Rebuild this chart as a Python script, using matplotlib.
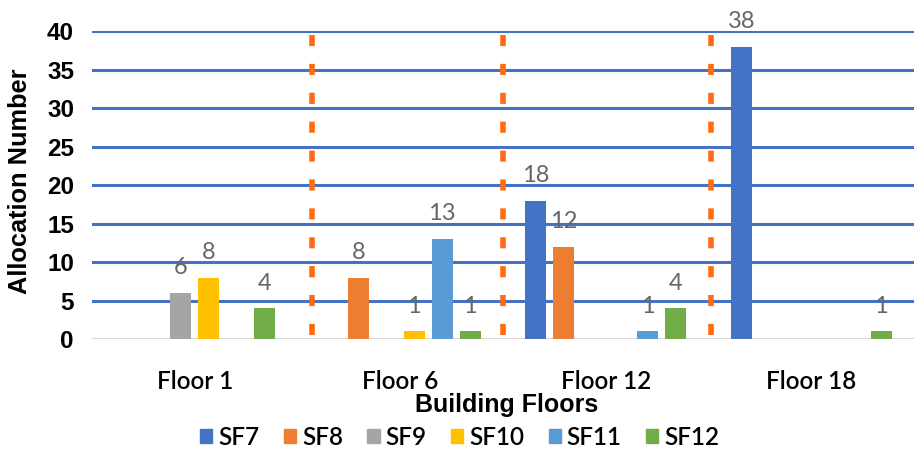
import numpy as np
import matplotlib.pyplot as plt
from matplotlib.patches import Patch

floors = ['Floor 1', 'Floor 6', 'Floor 12', 'Floor 18']
sf_names = ['SF7', 'SF8', 'SF9', 'SF10', 'SF11', 'SF12']
sf7 = [0, 0, 18, 38]
sf8 = [0, 8, 12, 0]
sf9 = [6, 0, 0, 0]
sf10 = [8, 1, 0, 0]
sf11 = [0, 13, 1, 0]
sf12 = [4, 1, 4, 1]
separators = [0.57, 1.5, 2.51]

colors = ['#4472C4', '#ED7D31', '#A5A5A5', '#FFC000', '#5B9BD5', '#70AD47']
series = [sf7, sf8, sf9, sf10, sf11, sf12]

fig = plt.figure(figsize=(9.14, 4.51), dpi=100)
ax = fig.add_axes([0.1007, 0.248, 0.8993, 0.683])

x = np.arange(len(floors))
step = 0.136
width = 0.102
for i, (vals, c) in enumerate(zip(series, colors)):
    pos = x + (i - 2.5) * step
    ax.bar(pos, vals, width, color=c, zorder=3)
    for p, v in zip(pos, vals):
        if v > 0:
            ax.text(p, v + 1.9, str(v), ha='center', va='bottom',
                    fontsize=17, color='#666666', family='Lato', zorder=4)

# horizontal grid
for yv in range(5, 45, 5):
    ax.axhline(yv, color='#4472C4', lw=2.2, zorder=1)
ax.axhline(0, color='#D9D9D9', lw=1.5, zorder=2)

# floor separators
for sx in separators:
    ax.plot([sx, sx], [0.6, 41.2], color='#FF6A13', lw=4, ls=(0, (2.0, 3.2)),
            clip_on=False, zorder=2, solid_capstyle='butt', dash_capstyle='butt')

ax.set_xlim(-0.5, 3.5)
ax.set_ylim(0, 40)
ax.set_yticks(range(0, 45, 5))
ax.set_yticklabels([str(v) for v in range(0, 45, 5)], fontsize=17.5,
                   fontweight='bold', family='Liberation Sans')
ax.tick_params(axis='y', length=0, pad=13)
ax.set_xticks(x)
ax.set_xticklabels(floors, fontsize=17.5, family='Lato', fontweight='semibold')
ax.tick_params(axis='x', length=0, pad=22)
for s in ax.spines.values():
    s.set_visible(False)

fig.text(0.022, 0.598, 'Allocation Number', rotation=90, ha='center', va='center',
         fontsize=18.3, fontweight='bold', family='Liberation Sans')
fig.text(0.554, 0.102, 'Building Floors', ha='center', va='center',
         fontsize=18, fontweight='bold', family='Liberation Sans')

handles = [Patch(color=c, label=n) for c, n in zip(colors, sf_names)]
fig.legend(handles=handles, loc='center', bbox_to_anchor=(0.503, 0.03), ncol=6,
           frameon=False, prop={'family': 'Lato', 'size': 17.5, 'weight': 'semibold'},
           handlelength=0.5, handleheight=0.5, handletextpad=0.25, columnspacing=1.0)

fig.savefig('out.png', dpi=100)
